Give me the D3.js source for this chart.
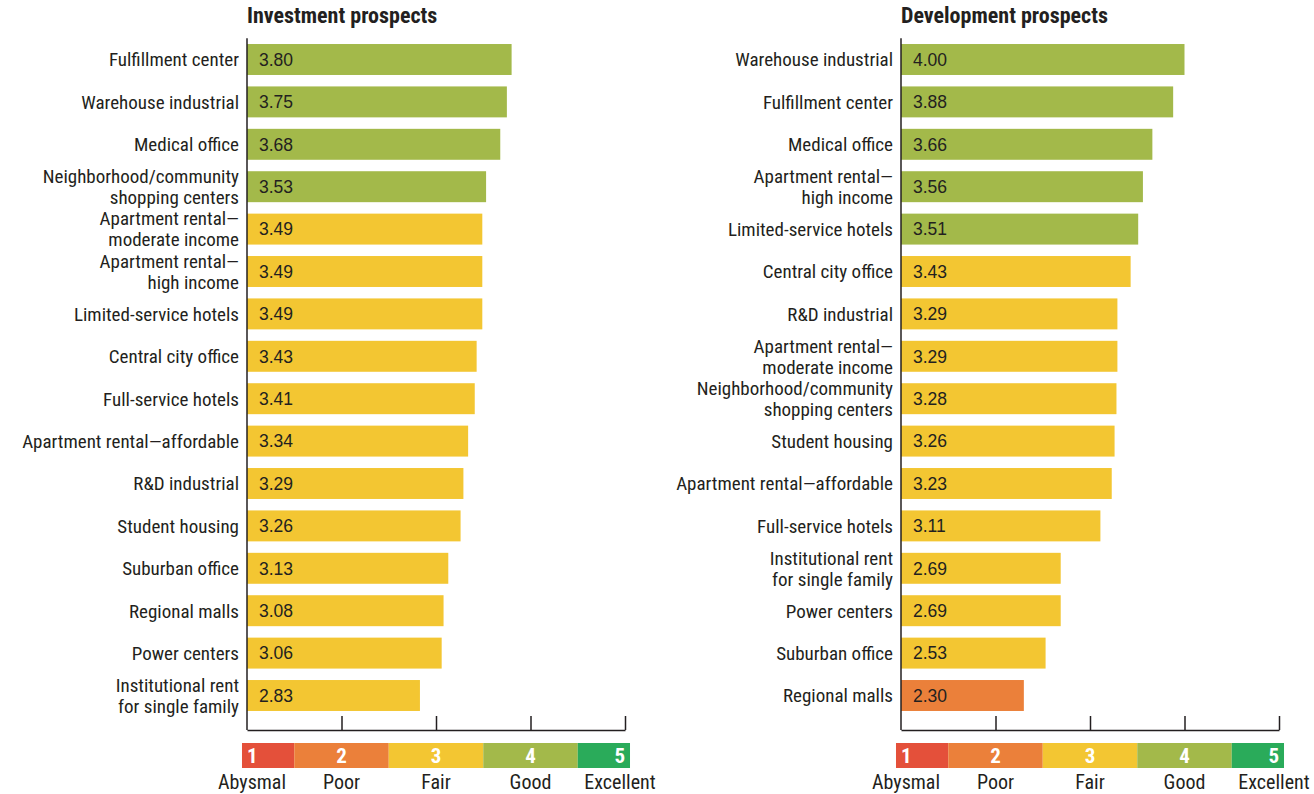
<!DOCTYPE html>
<html>
<head>
<meta charset="utf-8">
<script src="https://cdn.jsdelivr.net/npm/d3@7"></script>
<style>
  html, body { margin: 0; padding: 0; background: #fff; }
  .cond { font-family: "Liberation Sans Narrow", "Arial Narrow", "Roboto Condensed", sans-serif; }
</style>
</head>
<body>
<svg id="chart" width="1314" height="794"></svg>
<script>
// ---- Data ----
const investCategories = [
  "Fulfillment center", "Warehouse industrial", "Medical office",
  "Neighborhood/community|shopping centers", "Apartment rental—|moderate income",
  "Apartment rental—|high income", "Limited-service hotels", "Central city office",
  "Full-service hotels", "Apartment rental—affordable", "R&D industrial",
  "Student housing", "Suburban office", "Regional malls", "Power centers",
  "Institutional rent|for single family"
];
const investValues = [3.80, 3.75, 3.68, 3.53, 3.49, 3.49, 3.49, 3.43, 3.41, 3.34, 3.29, 3.26, 3.13, 3.08, 3.06, 2.83];

const devCategories = [
  "Warehouse industrial", "Fulfillment center", "Medical office",
  "Apartment rental—|high income", "Limited-service hotels", "Central city office",
  "R&D industrial", "Apartment rental—|moderate income",
  "Neighborhood/community|shopping centers", "Student housing",
  "Apartment rental—affordable", "Full-service hotels",
  "Institutional rent|for single family", "Power centers", "Suburban office", "Regional malls"
];
const devValues = [4.00, 3.88, 3.66, 3.56, 3.51, 3.43, 3.29, 3.29, 3.28, 3.26, 3.23, 3.11, 2.69, 2.69, 2.53, 2.30];

const panelTitles = ["Investment prospects", "Development prospects"];
const axisTicks = [2, 3, 4, 5];
const legendValues = [1, 2, 3, 4, 5];
const legendLabels = ["Abysmal", "Poor", "Fair", "Good", "Excellent"];
const ratingColors = ["#e4503a", "#eb803a", "#f3c632", "#a3b94a", "#2aab5a"];

// ---- Layout ----
const svg = d3.select("#chart");
const panelOffsets = [247, 901];
const plotW = 378;
const yTop = 38.3, step = 42.4;
const axisY = 730;

const colorFor = d3.scaleThreshold().domain([1.5, 2.5, 3.5, 4.5]).range(ratingColors);

function drawPanel(px, title, cats, vals) {
  const g = svg.append("g").attr("transform", `translate(${px},0)`);
  const x = d3.scaleLinear().domain([1, 5]).range([0, plotW]);
  const y = d3.scaleBand().domain(d3.range(cats.length))
    .range([yTop, yTop + step * cats.length]).paddingInner(0.27).paddingOuter(0.135);

  // title
  g.append("text").attr("class", "cond").attr("x", 0).attr("y", 23)
    .attr("font-size", 22).attr("font-weight", "bold").attr("fill", "#231f20")
    .text(title);

  // bars
  g.selectAll("rect.bar").data(vals).join("rect").attr("class", "bar")
    .attr("x", x(1)).attr("y", (d, i) => y(i))
    .attr("width", d => x(d) - x(1)).attr("height", y.bandwidth())
    .attr("fill", d => colorFor(d));

  // value labels
  g.selectAll("text.val").data(vals).join("text").attr("class", "val")
    .attr("x", x(1) + 12).attr("y", (d, i) => y(i) + y.bandwidth() / 2)
    .attr("dy", "0.36em")
    .attr("font-family", "'Liberation Sans', Arial, sans-serif")
    .attr("font-size", 17.5).attr("fill", "#231f20")
    .text(d => d.toFixed(2));

  // category labels
  g.selectAll("text.cat").data(cats).join("text").attr("class", "cat cond")
    .attr("text-anchor", "end").attr("font-size", 19).attr("fill", "#231f20")
    .each(function (d, i) {
      const lines = d.split("|");
      const cy = y(i) + y.bandwidth() / 2;
      const lh = 21;
      const t = d3.select(this);
      lines.forEach((ln, k) => {
        t.append("tspan").attr("x", -8)
          .attr("y", cy + (k - (lines.length - 1) / 2) * lh)
          .attr("dy", "0.36em").text(ln);
      });
    });

  // axes
  g.append("line").attr("x1", 0).attr("x2", 0).attr("y1", yTop).attr("y2", axisY)
    .attr("stroke", "#231f20").attr("stroke-width", 1.5);
  const ax = g.append("g").attr("transform", `translate(0,${axisY})`)
    .call(d3.axisBottom(x).tickValues(axisTicks).tickSizeInner(-14).tickSizeOuter(0).tickFormat(""));
  ax.select(".domain").attr("stroke", "#231f20").attr("stroke-width", 1.5);
  ax.selectAll(".tick line").attr("stroke", "#231f20").attr("stroke-width", 1.5);

  // legend
  const lg = g.append("g").attr("transform", `translate(0,743)`);
  const edges = [0.947, 1.5, 2.5, 3.5, 4.5, 5.053];
  lg.selectAll("rect").data(legendValues).join("rect")
    .attr("x", (d, i) => x(edges[i])).attr("y", 0)
    .attr("width", (d, i) => x(edges[i + 1]) - x(edges[i])).attr("height", 25)
    .attr("fill", d => colorFor(d));
  lg.selectAll("text.num").data(legendValues).join("text").attr("class", "num cond")
    .attr("x", d => x(d))
    .attr("text-anchor", d => d === 1 ? "start" : d === 5 ? "end" : "middle")
    .attr("y", 20).attr("font-size", 21).attr("font-weight", "bold").attr("fill", "#fff")
    .text(d => d);
  lg.selectAll("text.lbl").data(legendLabels).join("text").attr("class", "lbl cond")
    .attr("x", (d, i) => i === 0 ? x(1) + 5 : i === 4 ? x(5) - 5 : x(legendValues[i]))
    .attr("text-anchor", "middle")
    .attr("y", 46).attr("font-size", 20).attr("fill", "#231f20")
    .text(d => d);
}

drawPanel(panelOffsets[0], panelTitles[0], investCategories, investValues);
drawPanel(panelOffsets[1], panelTitles[1], devCategories, devValues);
</script>
</body>
</html>
